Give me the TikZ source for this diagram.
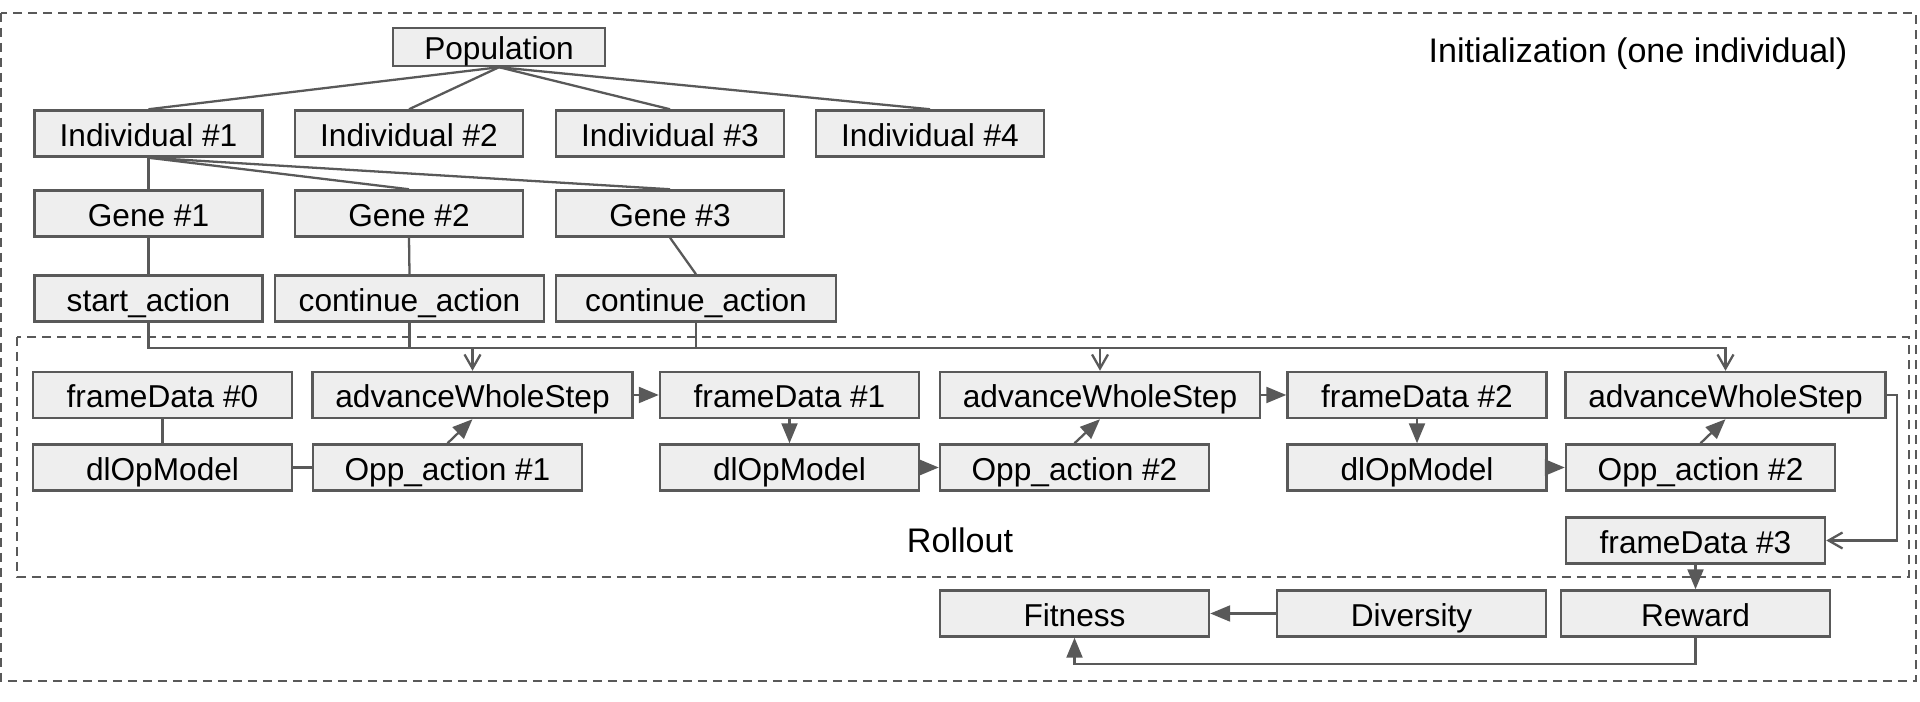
\documentclass[tikz,border=0pt]{standalone}
\usepackage{fontspec}
\setmainfont{Liberation Sans}
\usepackage{tikz}
\usetikzlibrary{arrows.meta,positioning,calc}
\definecolor{linegray}{RGB}{89,89,89}
\definecolor{boxgray}{RGB}{238,238,238}

\begin{document}
\begin{tikzpicture}[
  box/.style={draw=linegray,line width=0.7pt,fill=boxgray,inner sep=0pt,minimum height=0.46cm,
    text height=7.7pt,text depth=0.5pt,font=\fontsize{9}{10}\selectfont},
  nbox/.style={box,minimum width=2.28cm},
  fbox/.style={box,minimum width=2.59cm},
  obox/.style={box,minimum width=2.69cm},
  abox/.style={box,minimum width=3.2cm},
  link/.style={draw=linegray,line width=0.65pt},
  arc/.style={link,-{Triangle[length=2mm,width=1.6mm]}},
  barb/.style={link,-{Straight Barb[length=1.4mm,width=1.6mm]}},
  region/.style={draw=linegray,line width=0.6pt,dash pattern=on 0.09cm off 0.06cm},
  lab/.style={font=\fontsize{9.7}{11}\selectfont}
]
\useasboundingbox (0,0) rectangle (19.2,7.02);
\draw[region] (0.01,6.89) rectangle (19.16,0.21);
\draw[region] (0.17,3.65) rectangle (19.09,1.25);
\node[lab] (init) at (16.38,6.48) {Initialization (one individual)};
\node[lab] (roll) at (9.6,1.62) {Rollout};

% initialization tree
\node[box,minimum width=2.12cm,minimum height=0.38cm] (pop) at (4.99,6.55) {Population};
\node[nbox] (ind1) at (1.485,5.685) {Individual \#1};
\node[nbox] (ind2) at (4.09,5.685) {Individual \#2};
\node[nbox] (ind3) at (6.70,5.685) {Individual \#3};
\node[nbox] (ind4) at (9.30,5.685) {Individual \#4};
\node[nbox] (gene1) at (1.485,4.885) {Gene \#1};
\node[nbox] (gene2) at (4.09,4.885) {Gene \#2};
\node[nbox] (gene3) at (6.70,4.885) {Gene \#3};
\node[nbox] (sa) at (1.485,4.035) {start\_action};
\node[box,minimum width=2.69cm] (ca1) at (4.095,4.035) {continue\_action};
\node[box,minimum width=2.80cm] (ca2) at (6.96,4.035) {continue\_action};

\foreach \i in {1,...,4}
  \draw[link] (pop.south) -- (ind\i.north);
\foreach \i in {1,2,3}
  \draw[link] (ind1.south) -- (gene\i.north);
\draw[link] (gene1.south) -- (sa.north);
\draw[link] (gene2.south) -- (ca1.north);
\draw[link] (gene3.south) -- (ca2.north);

% rollout
\node[fbox] (fd0) at (1.625,3.07) {frameData \#0};
\node[abox] (adv1) at (4.725,3.07) {advanceWholeStep};
\node[fbox] (fd1) at (7.895,3.07) {frameData \#1};
\node[abox] (adv2) at (11.00,3.07) {advanceWholeStep};
\node[fbox] (fd2) at (14.17,3.07) {frameData \#2};
\node[abox] (adv3) at (17.255,3.07) {advanceWholeStep};
\node[fbox] (dl1) at (1.625,2.345) {dlOpModel};
\node[obox] (op1) at (4.475,2.345) {Opp\_action \#1};
\node[fbox] (dl2) at (7.895,2.345) {dlOpModel};
\node[obox] (op2) at (10.745,2.345) {Opp\_action \#2};
\node[fbox] (dl3) at (14.17,2.345) {dlOpModel};
\node[obox] (op3) at (17.005,2.345) {Opp\_action \#2};
\node[fbox] (fd3) at (16.955,1.615) {frameData \#3};

\draw[barb] (sa.south) -- ++(0,-0.255) -| (adv1.north);
\draw[barb] (ca1.south) -- ++(0,-0.255) -| (adv2.north);
\draw[barb] (ca2.south) -- ++(0,-0.255) -| (adv3.north);

\draw[link] (fd0.south) -- (dl1.north);
\draw[link] (dl1.east) -- (op1.west);
\draw[arc] (op1.north) -- (adv1.south);
\draw[arc] (adv1.east) -- (fd1.west);
\draw[arc] (fd1.south) -- (dl2.north);
\draw[arc] (dl2.east) -- (op2.west);
\draw[arc] (op2.north) -- (adv2.south);
\draw[arc] (adv2.east) -- (fd2.west);
\draw[arc] (fd2.south) -- (dl3.north);
\draw[arc] (dl3.east) -- (op3.west);
\draw[arc] (op3.north) -- (adv3.south);
\draw[barb] (adv3.east) -- ++(0.105,0) |- (fd3.east);

% evaluation
\node[obox] (fit) at (10.745,0.885) {Fitness};
\node[obox] (div) at (14.115,0.885) {Diversity};
\node[obox] (rew) at (16.955,0.885) {Reward};

\draw[arc] (fd3.south) -- (rew.north);
\draw[arc] (div.west) -- (fit.east);
\draw[arc] (rew.south) -- ++(0,-0.265) -| (fit.south);
\end{tikzpicture}
\end{document}
